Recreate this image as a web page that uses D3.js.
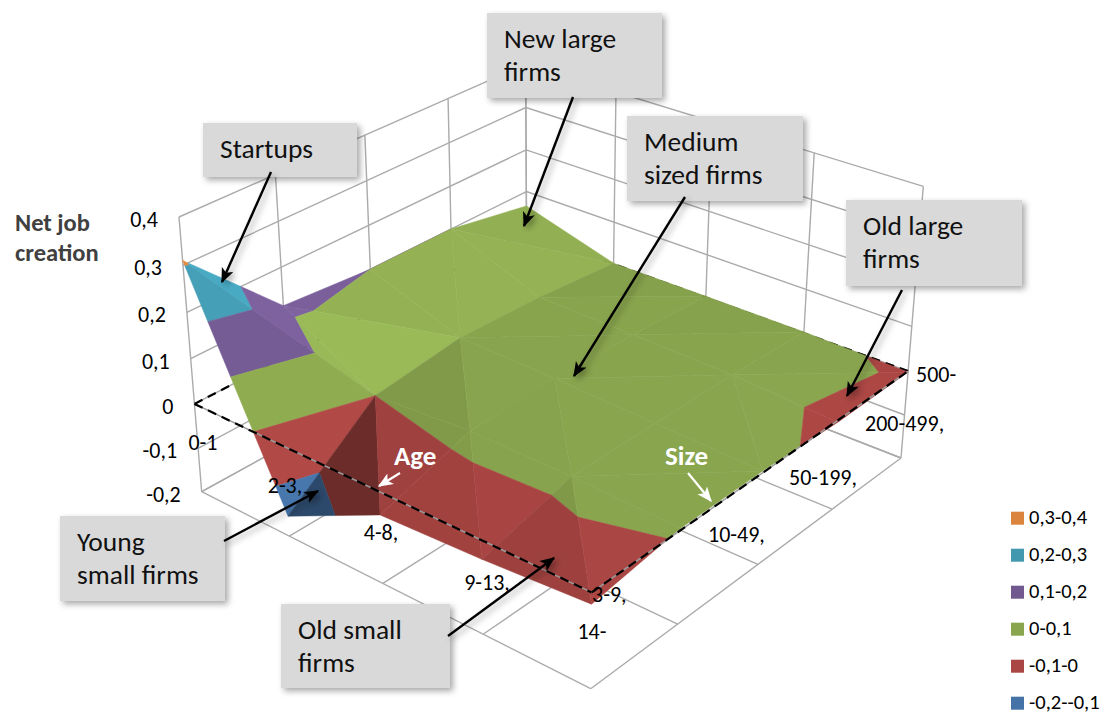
<!DOCTYPE html>
<html>
<head>
<meta charset="utf-8">
<script src="https://cdn.jsdelivr.net/npm/d3@7"></script>
<style>
	html, body { margin: 0; padding: 0; background: #fff; }
	svg { display: block; }
	text { font-family: Carlito, Lato, "Open Sans", sans-serif; }
</style>
</head>
<body>
<div id="chart"></div>
<script>
// categories
const ages = ['0-1', '2-3,', '4-8,', '9-13,', '14-'];
const sizes = ['3-9,', '10-49,', '50-199,', '200-499,', '500-'];
const zTicks = [0.4, 0.3, 0.2, 0.1, 0, -0.1, -0.2];

// net job creation, one array per age class, sizes left to right
const age0to1 = [0.31, 0.115, 0.10, 0.10, 0.065];
const age2to3 = [-0.155, 0.0, 0.025, 0.018, 0.002];
const age4to8 = [-0.05, 0.014, 0.02, 0.014, 0.003];
const age9to13 = [-0.04, 0.012, 0.012, 0.01, 0.003];
const age14up = [-0.024, 0.004, 0.0043, -0.0045, -0.002];
const surface = [age0to1, age2to3, age4to8, age9to13, age14up];

// legend bands
const bandLabels = ['0,3-0,4', '0,2-0,3', '0,1-0,2', '0-0,1', '-0,1-0', '-0,2--0,1'];
const bandLow = [0.3, 0.2, 0.1, 0, -0.1, -0.2];
const bandHigh = [0.4, 0.3, 0.2, 0.1, 0, -0.1];
const bandColors = ['#DB843D', '#4198AF', '#71588F', '#89A54E', '#AA4643', '#4572A7'];

// callouts
const noteLines = [['Startups'], ['New large', 'firms'], ['Medium', 'sized firms'], ['Old large', 'firms'], ['Young', 'small firms'], ['Old small', 'firms']];

const width = 1113;
const height = 715;

const svg = d3.select('#chart').append('svg')
	.attr('width', width)
	.attr('height', height);

const defs = svg.append('defs');

const shadow = defs.append('filter')
	.attr('id', 'shadow')
	.attr('x', '-20%').attr('y', '-20%')
	.attr('width', '140%').attr('height', '140%');
shadow.append('feDropShadow')
	.attr('dx', 3).attr('dy', 3)
	.attr('stdDeviation', 3)
	.attr('flood-color', '#000')
	.attr('flood-opacity', 0.35);

const arrowHead = (id, color) => {
	defs.append('marker')
		.attr('id', id)
		.attr('viewBox', '0 0 12 10')
		.attr('refX', 11).attr('refY', 5)
		.attr('markerUnits', 'userSpaceOnUse')
		.attr('markerWidth', 15).attr('markerHeight', 13)
		.attr('orient', 'auto')
		.append('path')
		.attr('d', 'M0,0 L12,5 L0,10 L3,5 Z')
		.style('fill', color);
};
arrowHead('head-black', '#000');
arrowHead('head-white', '#fff');

// scales from category / value to box fractions
const uScale = d3.scalePoint().domain(d3.range(ages.length)).range([0, 1]);
const vScale = d3.scalePoint().domain(d3.range(sizes.length)).range([0, 1]);
const wScale = d3.scaleLinear().domain([-0.2, 0.4]).range([0, 1]);

// perspective of the box, from its corners on screen
const camera = (() => {
	const [x0, y0] = [201.7, 491.7]; // age first, size first
	const [x1, y1] = [590.7, 688.7]; // age last, size first
	const [x2, y2] = [901, 458];     // age last, size last
	const [x3, y3] = [527, 312];     // age first, size last
	const [xt, yt] = [179, 217];     // top of the left corner
	const k = -0.061;

	const dx1 = x1 - x2, dx2 = x3 - x2, sx = x0 - x1 + x2 - x3;
	const dy1 = y1 - y2, dy2 = y3 - y2, sy = y0 - y1 + y2 - y3;
	const den = dx1 * dy2 - dx2 * dy1;
	const g = (sx * dy2 - dx2 * sy) / den;
	const h = (dx1 * sy - sx * dy1) / den;

	return {
		ax: x1 - x0 + g * x1, bx: x3 - x0 + h * x3, cx: x0, ex: (1 + k) * xt - x0,
		ay: y1 - y0 + g * y1, by: y3 - y0 + h * y3, cy: y0, ey: (1 + k) * yt - y0,
		g, h, k
	};
})();

const projectFrac = (u, v, w) => {
	const d = camera.g * u + camera.h * v + camera.k * w + 1;
	return [
		(camera.ax * u + camera.bx * v + camera.ex * w + camera.cx) / d,
		(camera.ay * u + camera.by * v + camera.ey * w + camera.cy) / d
	];
};

const project = (i, j, z) => {
	const last = ages.length - 1;
	const lastJ = sizes.length - 1;
	return projectFrac(i / last * (uScale(last) - uScale(0)), j / lastJ * (vScale(lastJ) - vScale(0)), wScale(z));
};

const line = d3.line();
const iMax = ages.length - 1;
const jMax = sizes.length - 1;

// walls and floor
const grid = svg.append('g')
	.style('fill', 'none')
	.style('stroke', '#ABABAB')
	.style('stroke-width', 1.4);

const drawSegment = (g, a, b) => g.append('path').attr('d', line([a, b]));

zTicks.forEach(z => {
	drawSegment(grid, project(0, 0, z), project(0, jMax, z));
	drawSegment(grid, project(0, jMax, z), project(iMax, jMax, z));
});
d3.range(sizes.length).forEach(j => {
	drawSegment(grid, project(0, j, -0.2), project(0, j, 0.4));
	drawSegment(grid, project(0, j, -0.2), project(iMax, j, -0.2));
});
d3.range(ages.length).forEach(i => {
	drawSegment(grid, project(i, jMax, -0.2), project(i, jMax, 0.4));
	drawSegment(grid, project(i, 0, -0.2), project(i, jMax, -0.2));
});

const dashed = (a, b) => svg.append('path')
	.attr('d', line([a, b]))
	.style('fill', 'none')
	.style('stroke', '#000')
	.style('stroke-width', 2.2)
	.style('stroke-dasharray', '9 6');

// the zero plane, back edges go under the surface
dashed(project(0, 0, 0), project(0, jMax, 0));
dashed(project(iMax, jMax, 0), project(0, jMax, 0));

// keep the part of a triangle inside one band
const clipBand = (tri, lo, hi) => {
	const clipOne = (poly, keep, level) => {
		const out = [];
		poly.forEach((p, n) => {
			const q = poly[(n + 1) % poly.length];
			if (keep(p.z)) out.push(p);
			if (keep(p.z) !== keep(q.z)) {
				const t = (level - p.z) / (q.z - p.z);
				out.push({ i: p.i + t * (q.i - p.i), j: p.j + t * (q.j - p.j), z: level });
			}
		});
		return out;
	};
	let poly = clipOne(tri, z => z >= lo, lo);
	if (poly.length) poly = clipOne(poly, z => z <= hi, hi);
	return poly;
};

// brightness of a facet, the light falls along the age axis
const facetShade = tri => {
	const [a, b, c] = tri;
	const d1i = b.i - a.i, d1j = b.j - a.j, d1z = b.z - a.z;
	const d2i = c.i - a.i, d2j = c.j - a.j, d2z = c.z - a.z;
	const den = d1i * d2j - d2i * d1j;
	const dzdi = (d1z * d2j - d2z * d1j) / den;
	const dzdj = (d1i * d2z - d2i * d1z) / den;
	let s = 0.98 - 3.3 * dzdi;
	if (s > 1) s = Math.min(1.13, 1 + (s - 1) * 0.35);
	const steep = Math.hypot(dzdi, dzdj);
	if (steep > 0.2) s -= 0.3 * (steep - 0.2);
	return Math.max(0.62, s);
};

const shaded = (color, s) => {
	const c = d3.rgb(color);
	return d3.rgb(c.r * s, c.g * s, c.b * s).formatHex();
};

const vertex = (i, j) => ({ i, j, z: surface[i][j] });

const triangles = [];
d3.range(iMax).forEach(i => {
	d3.range(jMax - 1, -1, -1).forEach(j => {
		const a = vertex(i, j), b = vertex(i + 1, j), c = vertex(i + 1, j + 1), d = vertex(i, j + 1);
		if (a.z + c.z >= b.z + d.z) {
			triangles.push([a, c, d], [a, b, c]);
		} else {
			triangles.push([a, b, d], [b, c, d]);
		}
	});
});

const surfaceGroup = svg.append('g');
triangles.forEach(tri => {
	const s = facetShade(tri);
	bandColors.forEach((color, n) => {
		const poly = clipBand(tri, bandLow[n], bandHigh[n]);
		if (poly.length < 3) return;
		const fill = shaded(color, s);
		surfaceGroup.append('path')
			.attr('d', line(poly.map(p => project(p.i, p.j, p.z))) + 'Z')
			.style('fill', fill)
			.style('stroke', fill)
			.style('stroke-width', 0.5);
	});
});

// front edges of the zero plane lie over the surface
[[project(0, 0, 0), project(iMax, 0, 0)], [project(iMax, 0, 0), project(iMax, jMax, 0)]].forEach(seg => {
	svg.append('path').attr('d', line(seg))
		.style('fill', 'none')
		.style('stroke', '#9A9A9A')
		.style('stroke-width', 1.5);
	dashed(seg[0], seg[1]);
});

// value axis
svg.append('g').selectAll('text')
	.data(zTicks)
	.enter()
	.append('text')
	.attr('x', d => project(0, 0, d)[0] - 21)
	.attr('y', d => project(0, 0, d)[1] + 10)
	.attr('text-anchor', 'end')
	.style('font-size', '22px')
	.style('fill', '#000')
	.text(d => String(d).replace('.', ','));

// category labels
const ageLabelX = [203, 285, 381, 487, 592];
const ageLabelY = [450, 493, 540, 590, 639];
const sizeLabelX = [592, 708, 789, 865, 916];
const sizeLabelY = [602, 542, 485, 431, 382];

svg.append('g').selectAll('text')
	.data(ages)
	.enter()
	.append('text')
	.attr('x', (d, i) => ageLabelX[i])
	.attr('y', (d, i) => ageLabelY[i])
	.attr('text-anchor', 'middle')
	.style('font-size', '22px')
	.text(d => d);

svg.append('g').selectAll('text')
	.data(sizes)
	.enter()
	.append('text')
	.attr('x', (d, i) => sizeLabelX[i])
	.attr('y', (d, i) => sizeLabelY[i])
	.style('font-size', '22px')
	.text(d => d);

// axis title
svg.append('g').selectAll('text')
	.data(['Net job', 'creation'])
	.enter()
	.append('text')
	.attr('x', 15)
	.attr('y', (d, i) => 231 + i * 30)
	.style('font-size', '24.5px')
	.style('font-weight', 700)
	.style('fill', '#404040')
	.text(d => d);

// legend
const legend = svg.append('g').selectAll('g')
	.data(bandLabels)
	.enter()
	.append('g')
	.attr('transform', (d, i) => `translate(1011,${511.7 + i * 37})`);

legend.append('rect')
	.attr('width', 13)
	.attr('height', 13)
	.style('fill', (d, i) => bandColors[i]);

legend.append('text')
	.attr('x', 18)
	.attr('y', 12.5)
	.style('font-size', '20.5px')
	.text(d => d);

// arrows
const arrow = (x1, y1, x2, y2, color, w, filter) => svg.append('line')
	.attr('x1', x1).attr('y1', y1)
	.attr('x2', x2).attr('y2', y2)
	.attr('marker-end', `url(#head-${color === '#000' ? 'black' : 'white'})`)
	.attr('filter', filter ? 'url(#shadow)' : null)
	.style('stroke', color)
	.style('stroke-width', w);

// callout boxes
const noteX = [203, 487, 627, 846, 60, 281];
const noteY = [123, 13, 116, 200, 516, 604];
const noteW = [154, 175, 176, 176, 165, 169];
const noteH = [54, 85, 85, 86, 85, 84];

const notes = svg.append('g').selectAll('g')
	.data(noteLines)
	.enter()
	.append('g')
	.attr('transform', (d, i) => `translate(${noteX[i]},${noteY[i]})`);

notes.append('rect')
	.attr('width', (d, i) => noteW[i])
	.attr('height', (d, i) => noteH[i])
	.attr('filter', 'url(#shadow)')
	.style('fill', '#D9D9D9');

notes.selectAll('text')
	.data(d => d)
	.enter()
	.append('text')
	.attr('x', 17)
	.attr('y', (d, i) => 35 + i * 33)
	.style('font-size', '27.5px')
	.style('fill', '#111')
	.text(d => d);

arrow(271, 172, 222, 282, '#000', 2.4, true);
arrow(573, 97, 524, 226, '#000', 2.4, true);
arrow(685, 197, 574, 376, '#000', 2.4, true);
arrow(902, 290, 847, 396, '#000', 2.4, true);
arrow(224, 541, 318, 491, '#000', 2.4, true);
arrow(448, 636, 554, 558, '#000', 2.4, true);
arrow(400, 473, 379, 486, '#fff', 2.2, false);
arrow(688, 473, 711, 501, '#fff', 2.2, false);

svg.append('text')
	.attr('x', 394).attr('y', 465)
	.style('font-size', '27px')
	.style('font-weight', 700)
	.style('fill', '#fff')
	.text('Age');

svg.append('text')
	.attr('x', 665).attr('y', 465)
	.style('font-size', '27px')
	.style('font-weight', 700)
	.style('fill', '#fff')
	.text('Size');
</script>
</body>
</html>
